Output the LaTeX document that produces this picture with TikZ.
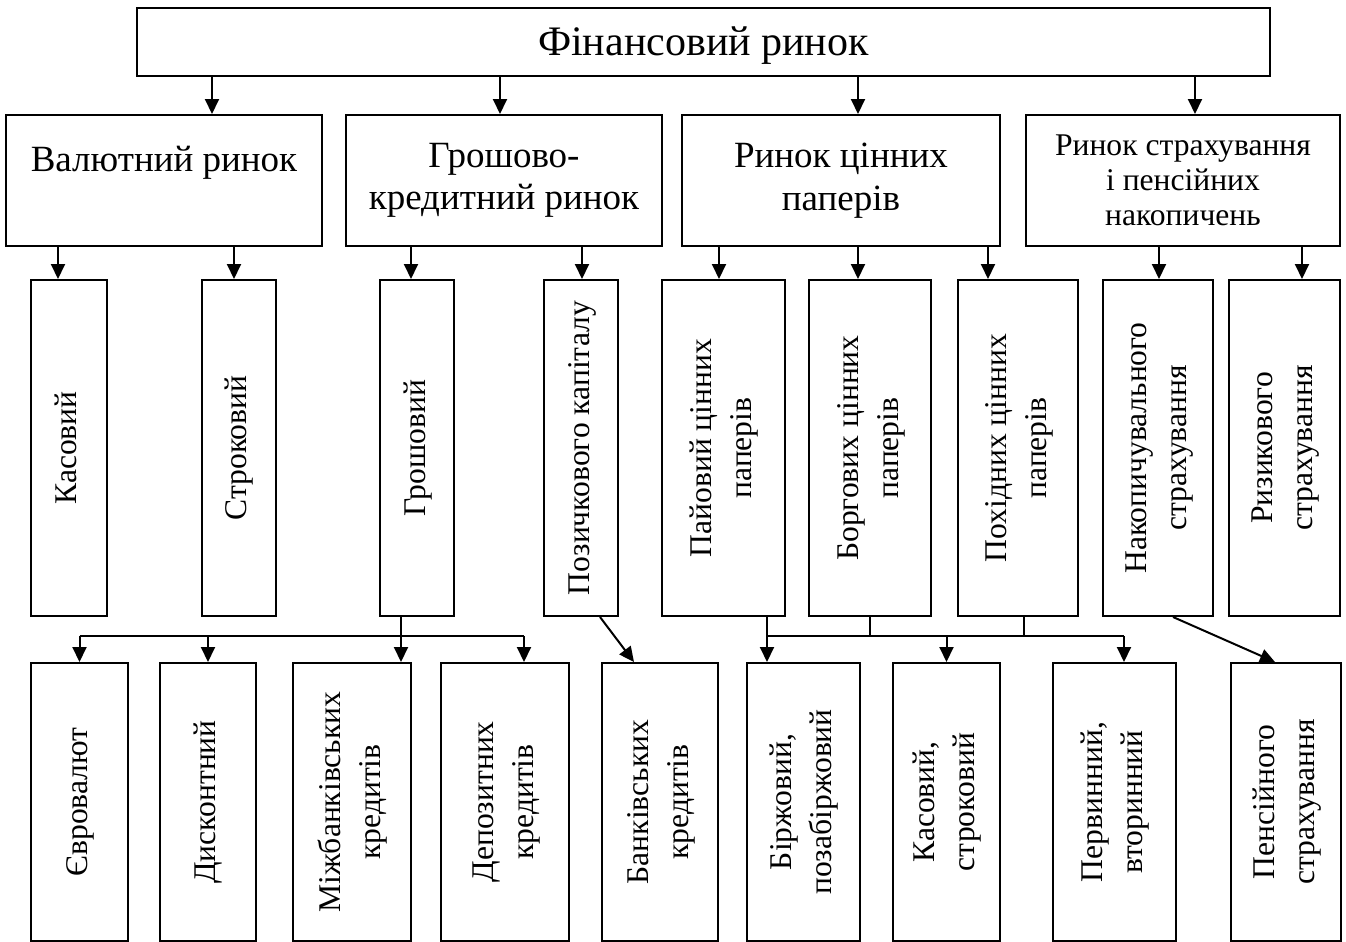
\documentclass[tikz,border=0pt]{standalone}
\usepackage{fontspec}
\setmainfont{Liberation Serif}
\usepackage{graphicx}
\usetikzlibrary{arrows.meta,calc}
\newcommand\mybx[7]{\node[box,#1,minimum width={(#5-#3)*0.5pt},minimum height={(#6-#4)*0.5pt}] (#2) at ({(#3+#5)/2},{(#4+#6)/2}) {#7};}
\newcommand\rtxt[1]{\rotatebox{90}{\begin{tabular}{@{}c@{}}#1\end{tabular}}}
\begin{document}
\begin{tikzpicture}[x=0.5pt,y=-0.5pt,
 box/.style={draw, line width=1pt, inner sep=0pt, align=center, anchor=center},
 line/.style={line width=1pt},
 arr/.style={line width=1pt, -{Triangle[length=7.5pt,width=7pt]}},
 tfont/.style={font=\fontsize{21}{24}\selectfont},
 mfont/.style={font=\fontsize{18.5}{21.25}\selectfont},
 sfont/.style={font=\fontsize{15.8}{17.5}\selectfont},
 rfont/.style={font=\fontsize{15.8}{20}\selectfont}]
\useasboundingbox (0,0) rectangle (1346,942);

% level 1
\mybx{tfont}{top}{137}{8}{1270}{76}{\raisebox{-2pt}[\height][\depth]{Фінансовий ринок}}

% level 2
\mybx{mfont}{v1}{6}{115}{322}{246}{Валютний ринок\\\mbox{}}
\mybx{mfont}{v2}{346}{115}{662}{246}{Грошово-\\кредитний ринок}
\mybx{mfont}{v3}{682}{115}{1000}{246}{Ринок цінних\\паперів}
\mybx{sfont}{v4}{1026}{115}{1340}{246}{Ринок страхування\\і пенсійних\\накопичень}

% level 3
\mybx{rfont}{k1}{31}{280}{107}{616}{\rtxt{Касовий}}
\mybx{rfont}{k2}{202}{280}{276}{616}{\rtxt{Строковий}}
\mybx{rfont}{k3}{380}{280}{454}{616}{\rtxt{Грошовий}}
\mybx{rfont}{k4}{544}{280}{618}{616}{\rtxt{Позичкового капіталу}}
\mybx{rfont}{k5}{662}{280}{785}{616}{\rtxt{Пайовий цінних\\паперів}}
\mybx{rfont}{k6}{809}{280}{931}{616}{\rtxt{Боргових цінних\\паперів}}
\mybx{rfont}{k7}{958}{280}{1078}{616}{\rtxt{Похідних цінних\\паперів}}
\mybx{rfont}{k8}{1103}{280}{1213}{616}{\rtxt{Накопичувального\\страхування}}
\mybx{rfont}{k9}{1229}{280}{1340}{616}{\rtxt{Ризикового\\страхування}}

% level 4
\mybx{rfont}{e1}{31}{663}{128}{941}{\rtxt{Євровалют}}
\mybx{rfont}{e2}{160}{663}{256}{941}{\rtxt{Дисконтний}}
\mybx{rfont}{e3}{293}{663}{411}{941}{\rtxt{Міжбанківських\\кредитів}}
\mybx{rfont}{e4}{441}{663}{569}{941}{\rtxt{Депозитних\\кредитів}}
\mybx{rfont}{e5}{602}{663}{718}{941}{\rtxt{Банківських\\кредитів}}
\mybx{rfont}{e6}{747}{663}{860}{941}{\rtxt{Біржовий,\\позабіржовий}}
\mybx{rfont}{e7}{893}{663}{1000}{941}{\rtxt{Касовий,\\строковий}}
\mybx{rfont}{e8}{1053}{663}{1176}{941}{\rtxt{Первинний,\\вторинний}}
\mybx{rfont}{e9}{1231}{663}{1341}{941}{\rtxt{Пенсійного\\страхування}}

% arrow x positions
\coordinate (t1) at (212,0);
\coordinate (t2) at (500,0);
\coordinate (t3) at (858,0);
\coordinate (t4) at (1195,0);
\coordinate (s1) at (58,0);
\coordinate (s2) at (234,0);
\coordinate (s3) at (411,0);
\coordinate (s4) at (582,0);
\coordinate (s5) at (719,0);
\coordinate (s6) at (858,0);
\coordinate (s7) at (988,0);
\coordinate (s8) at (1159,0);
\coordinate (s9) at (1302,0);

% level 1 -> 2
\draw[arr] (top.south -| t1) -- (v1.north -| t1);
\draw[arr] (top.south -| t2) -- (v2.north -| t2);
\draw[arr] (top.south -| t3) -- (v3.north -| t3);
\draw[arr] (top.south -| t4) -- (v4.north -| t4);

% level 2 -> 3
\draw[arr] (v1.south -| s1) -- (k1.north -| s1);
\draw[arr] (v1.south -| s2) -- (k2.north -| s2);
\draw[arr] (v2.south -| s3) -- (k3.north -| s3);
\draw[arr] (v2.south -| s4) -- (k4.north -| s4);
\draw[arr] (v3.south -| s5) -- (k5.north -| s5);
\draw[arr] (v3.south -| s6) -- (k6.north -| s6);
\draw[arr] (v3.south -| s7) -- (k7.north -| s7);
\draw[arr] (v4.south -| s8) -- (k8.north -| s8);
\draw[arr] (v4.south -| s9) -- (k9.north -| s9);

% bus 1 (Грошовий)
\coordinate (j1) at (401,636);
\coordinate (j1r) at (524,636);
\draw[line] (k3.south -| j1) -- (j1);
\draw[line] (e1.north |- j1) -- (j1r);
\draw[arr] (e1.north |- j1) -- (e1.north);
\draw[arr] (e2.north |- j1) -- (e2.north);
\draw[arr] (j1) -- (e3.north -| j1);
\draw[arr] (j1r) -- (e4.north -| j1r);

% diagonal Позичкового -> Банківських
\draw[arr] ($(k4.south)+(19,0)$) -- ($(e5.north)+(-26,0)$);

% bus 2 (цінні папери)
\coordinate (j2l) at (767,636);
\coordinate (j2c) at (1024,636);
\coordinate (j2r) at (1124,636);
\draw[line] (j2l) -- (j2r);
\draw[line] (k5.south -| j2l) -- (j2l);
\draw[line] (k6.south) -- (k6.south |- j2l);
\draw[line] (k7.south -| j2c) -- (j2c);
\draw[arr] (j2l) -- (e6.north -| j2l);
\draw[arr] (e7.north |- j2l) -- (e7.north);
\draw[arr] (j2r) -- (e8.north -| j2r);

% diagonal Накопичувального -> Пенсійного
\draw[arr] ($(k8.south)+(15,0)$) -- ($(e9.north)+(-11,0)$);
\end{tikzpicture}
\end{document}
